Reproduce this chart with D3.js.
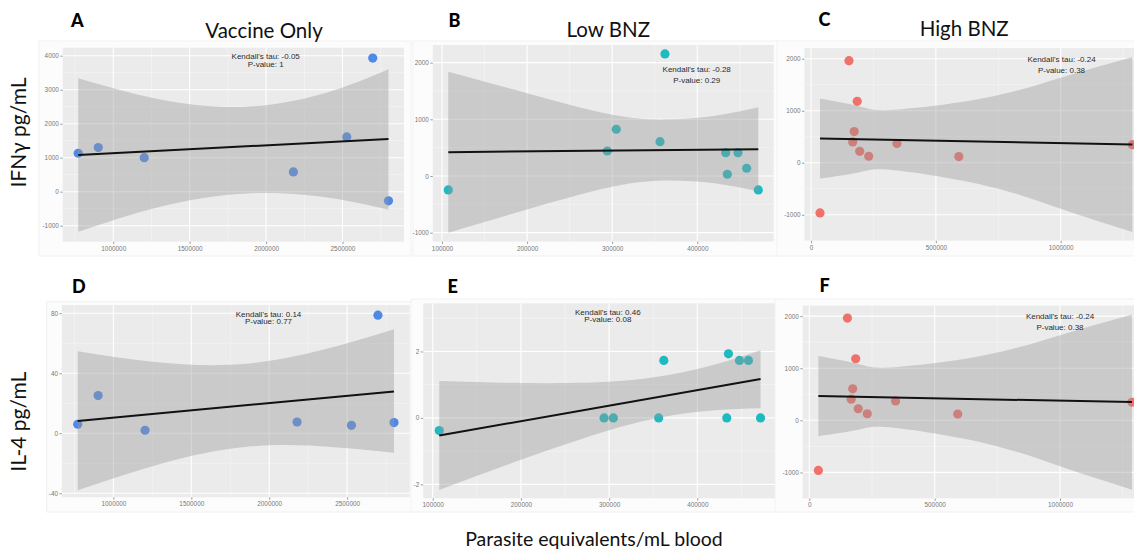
<!DOCTYPE html>
<html><head><meta charset="utf-8">
<script src="https://cdn.jsdelivr.net/npm/d3@7"></script>
<style>body{margin:0;background:#fff;} svg{display:block;}</style>
</head><body>
<svg id="chart" width="1134" height="552"></svg>
<script>
// ---------------- DATA ----------------
const groupTitles = ["Vaccine Only", "Low BNZ", "High BNZ"];
const panelLetters = ["A", "B", "C", "D", "E", "F"];
const rowTitles = ["IFN\u03b3 pg/mL", "IL-4 pg/mL"];
const xTitle = "Parasite equivalents/mL blood";

// Vaccine only
const vacX   = [770800, 901800, 1203000, 2178800, 2528000, 2698000, 2801000];
const vacIFN = [1130, 1300, 1000, 580, 1610, 3930, -270];
const vacIL4 = [6, 25.1, 2, 7.5, 5.3, 78.7, 7.1];
// Low BNZ
const lowX   = [107400, 294250, 304800, 356200, 362000, 433400, 435300, 447800, 458000, 471700];
const lowIFN = [-247, 441, 824, 605, 2153, 411, 30, 411, 136, -247];
const lowIL4 = [-0.38, 0, 0, 0, 1.73, 0, 1.93, 1.73, 1.73, 0];
// High BNZ
const highX   = [36000, 152000, 185000, 173000, 167000, 195000, 231000, 344000, 592000, 1287000];
const highIFN = [-965, 1962, 1180, 600, 400, 220, 125, 370, 118, 348];
const highIL4 = [-962, 1963, 1182, 605, 405, 222, 126, 373, 120, 347];

// fitted line (value at min x, value at max x)
const fitA = [1080, 1550];
const fitB = [420, 471];
const fitC = [465, 350];
const fitD = [8.1, 27.9];
const fitE = [-0.53, 1.17];
const fitF = [465, 350];

// confidence bands
const bandVacX   = [770800, 1300000, 1870000, 2400000, 2801000];
const bandAUpper = [3335, 2720, 2500, 2920, 3600];
const bandALower = [-1180, -450, -50, -170, -530];
const bandDUpper = [54.7, 47.1, 46.5, 57.1, 69.3];
const bandDLower = [-38, -20.5, -8.9, -9.1, -13];
const bandLowX   = [107400, 200000, 300000, 367000, 420000, 471700];
const bandBUpper = [1840, 1460, 1080, 1000, 1060, 1212];
const bandBLower = [-1000, -590, -190, -80, -130, -270];
const bandEUpper = [1.11, 1.05, 1.09, 1.29, 1.61, 2.04];
const bandELower = [-2.17, -1.26, -0.37, 0.06, 0.23, 0.29];
const bandHighX  = [36000, 200000, 336000, 700000, 1000000, 1287000];
const bandCUpper = [1235, 1076, 1019, 1249, 1635, 2033];
const bandCLower = [-305, -176, -145, -441, -883, -1333];

// statistics text
const tauVals = ["-0.05", "-0.28", "-0.24", "0.14", "0.46", "-0.24"];
const pVals   = ["1", "0.29", "0.38", "0.77", "0.08", "0.38"];

// tick labels
const xTicksVac  = [1000000, 1500000, 2000000, 2500000];
const xTicksLow  = [100000, 200000, 300000, 400000];
const xTicksHigh = [0, 500000, 1000000];
const yTicksA = [-1000, 0, 1000, 2000, 3000, 4000];
const yTicksB = [-1000, 0, 1000, 2000];
const yTicksC = [-1000, 0, 1000, 2000];
const yTicksD = [-40, 0, 40, 80];
const yTicksE = [-2, 0, 2];
const yTicksF = [-1000, 0, 1000, 2000];

// colours
const colVac = "#4f89e6", colLow = "#1dbac0", colHigh = "#ef716a";

// ---------------- LAYOUT ----------------
const panels = [
  {letter:0, x:vacX, y:vacIFN, fit:fitA, bx:bandVacX, bu:bandAUpper, bl:bandALower, col:colVac, xt:xTicksVac, yt:yTicksA,
   xd:[669300, 2902500], xr:[62.7, 404], yd:[-1471, 4235], yr:[241.7, 47.7],
   ann:[265.7, 56, 8], letterPos:[71, 26.5], frame:[39, 41, 411, 256]},
  {letter:1, x:lowX, y:lowIFN, fit:fitB, bx:bandLowX, bu:bandBUpper, bl:bandBLower, col:colLow, xt:xTicksLow, yt:yTicksB,
   xd:[89200, 489900], xr:[432.8, 773.8], yd:[-1158, 2311], yr:[241.6, 45],
   ann:[696.7, 69.3, 10.7], letterPos:[448.5, 26.5], frame:[413, 41, 779, 256]},
  {letter:2, x:highX, y:highIFN, fit:fitC, bx:bandHighX, bu:bandCUpper, bl:bandCLower, col:colHigh, xt:xTicksHigh, yt:yTicksC,
   xd:[-26500, 1349500], xr:[804.4, 1148], yd:[-1501, 2204], yr:[240.8, 48.1],
   ann:[1061.5, 59, 11], letterPos:[818.5, 25.5], frame:[777, 41, 1150, 256]},
  {letter:3, x:vacX, y:vacIL4, fit:fitD, bx:bandVacX, bu:bandDUpper, bl:bandDLower, col:colVac, xt:xTicksVac, yt:yTicksD,
   xd:[669300, 2902500], xr:[61.9, 409.8], yd:[-42.7, 85.5], yr:[497.3, 305],
   ann:[268.5, 313.7, 7.6], letterPos:[72, 293], frame:[46.7, 301.7, 414, 512]},
  {letter:4, x:lowX, y:lowIL4, fit:fitE, bx:bandLowX, bu:bandEUpper, bl:bandELower, col:colLow, xt:xTicksLow, yt:yTicksE,
   xd:[89200, 489900], xr:[423.2, 776.6], yd:[-2.42, 3.45], yr:[498.3, 303.3],
   ann:[607.8, 312.3, 7], letterPos:[447.5, 293], frame:[411, 299, 780, 512]},
  {letter:5, x:highX, y:highIL4, fit:fitF, bx:bandHighX, bu:bandCUpper, bl:bandCLower, col:colHigh, xt:xTicksHigh, yt:yTicksF,
   xd:[-26500, 1349500], xr:[802.7, 1147.6], yd:[-1501, 2204], yr:[498.5, 305.5],
   ann:[1060, 316, 11], letterPos:[819.5, 291.5], frame:[775, 299, 1150, 512]}
];

const svg = d3.select("#chart");
svg.append("rect").attr("width", 1134).attr("height", 552).attr("fill", "#fff");

const tickFont = "'Liberation Sans', Arial, sans-serif";
const titleFont = "Lato, 'Open Sans', sans-serif";

function minorTicks(major, domain) {
  const step = major[1] - major[0];
  const out = [];
  const lo = Math.min(domain[0], domain[1]), hi = Math.max(domain[0], domain[1]);
  for (let v = major[0] - step / 2; v <= hi; v += step) if (v >= lo) out.push(v);
  return out;
}

panels.forEach((p, i) => {
  const g = svg.append("g");
  // plot background frame
  g.append("rect")
    .attr("x", p.frame[0]).attr("y", p.frame[1])
    .attr("width", p.frame[2] - p.frame[0]).attr("height", p.frame[3] - p.frame[1])
    .attr("fill", "#fcfcfc").attr("stroke", "#f1f1f1").attr("stroke-width", 1);

  const x = d3.scaleLinear().domain(p.xd).range(p.xr);
  const y = d3.scaleLinear().domain(p.yd).range(p.yr);

  // panel background
  g.append("rect")
    .attr("x", p.xr[0]).attr("y", p.yr[1])
    .attr("width", p.xr[1] - p.xr[0]).attr("height", p.yr[0] - p.yr[1])
    .attr("fill", "#ebebeb");

  // minor grid
  const xMinor = minorTicks(p.xt, p.xd), yMinor = minorTicks(p.yt, p.yd);
  g.selectAll(".xmin").data(xMinor).join("line")
    .attr("x1", d => x(d)).attr("x2", d => x(d)).attr("y1", p.yr[0]).attr("y2", p.yr[1])
    .attr("stroke", "#f7f7f7").attr("stroke-width", 0.6);
  g.selectAll(".ymin").data(yMinor).join("line")
    .attr("y1", d => y(d)).attr("y2", d => y(d)).attr("x1", p.xr[0]).attr("x2", p.xr[1])
    .attr("stroke", "#f7f7f7").attr("stroke-width", 0.6);
  // major grid
  g.selectAll(".xmaj").data(p.xt).join("line")
    .attr("x1", d => x(d)).attr("x2", d => x(d)).attr("y1", p.yr[0]).attr("y2", p.yr[1])
    .attr("stroke", "#ffffff").attr("stroke-width", 1.1);
  g.selectAll(".ymaj").data(p.yt).join("line")
    .attr("y1", d => y(d)).attr("y2", d => y(d)).attr("x1", p.xr[0]).attr("x2", p.xr[1])
    .attr("stroke", "#ffffff").attr("stroke-width", 1.1);

  // points (drawn under the band, as in ggplot)
  g.selectAll(".pt").data(p.x.map((v, k) => [v, p.y[k]])).join("circle")
    .attr("cx", d => x(d[0])).attr("cy", d => y(d[1])).attr("r", 4.6)
    .attr("fill", p.col);

  // confidence band
  const area = d3.area()
    .x(d => x(d[0])).y0(d => y(d[1])).y1(d => y(d[2]))
    .curve(d3.curveNatural);
  g.append("path")
    .datum(p.bx.map((v, k) => [v, p.bl[k], p.bu[k]]))
    .attr("d", area).attr("fill", "#999999").attr("fill-opacity", 0.4);

  // regression line
  const xMin = d3.min(p.x), xMax = d3.max(p.x);
  g.append("line")
    .attr("x1", x(xMin)).attr("y1", y(p.fit[0]))
    .attr("x2", x(xMax)).attr("y2", y(p.fit[1]))
    .attr("stroke", "#111").attr("stroke-width", 2);

  // axes
  const yAxis = d3.axisLeft(y).tickValues(p.yt).tickSize(2.4).tickPadding(1.5).tickFormat(d => String(d));
  const ya = g.append("g").attr("transform", `translate(${p.xr[0]},0)`).call(yAxis);
  const xAxis = d3.axisBottom(x).tickValues(p.xt).tickSize(2.4).tickPadding(2).tickFormat(d => String(d));
  const xa = g.append("g").attr("transform", `translate(0,${p.yr[0]})`).call(xAxis);
  [ya, xa].forEach(a => {
    a.select(".domain").remove();
    a.selectAll(".tick line").attr("stroke", "#777").attr("stroke-width", 0.7);
    a.selectAll(".tick text").attr("fill", "#777").style("font-family", tickFont).style("font-size", "6.4px");
  });

  // annotation
  const ann = g.append("text").attr("text-anchor", "middle")
    .style("font-family", tickFont).style("font-size", "8px").attr("fill", "#2a2a2a");
  ann.append("tspan").attr("x", p.ann[0]).attr("y", p.ann[1]).attr("dy", "0.35em")
    .text("Kendall's tau: " + tauVals[i]);
  ann.append("tspan").attr("x", p.ann[0]).attr("y", p.ann[1] + p.ann[2]).attr("dy", "0.35em")
    .text("P-value: " + pVals[i]);

  // panel letter
  svg.append("text").attr("x", p.letterPos[0]).attr("y", p.letterPos[1])
    .style("font-family", titleFont).style("font-weight", "900").style("font-size", "18px")
    .attr("fill", "#000").text(panelLetters[p.letter]);
});

// group titles
const titlePos = [[264, 38.3], [608.3, 37.3], [964.2, 36]];
groupTitles.forEach((t, k) => {
  svg.append("text").attr("x", titlePos[k][0]).attr("y", titlePos[k][1]).attr("text-anchor", "middle")
    .style("font-family", titleFont).style("font-size", "20.5px").attr("fill", "#111").text(t);
});
// row titles
const rowPos = [[25.5, 132.5], [26, 421.7]];
rowTitles.forEach((t, k) => {
  svg.append("text").attr("transform", `translate(${rowPos[k][0]},${rowPos[k][1]}) rotate(-90)`)
    .attr("text-anchor", "middle")
    .style("font-family", titleFont).style("font-size", "21px").attr("fill", "#111").text(t);
});
// x title
svg.append("text").attr("x", 594).attr("y", 546).attr("text-anchor", "middle")
  .style("font-family", titleFont).style("font-size", "19.5px").attr("fill", "#111").text(xTitle);
</script>
</body></html>
